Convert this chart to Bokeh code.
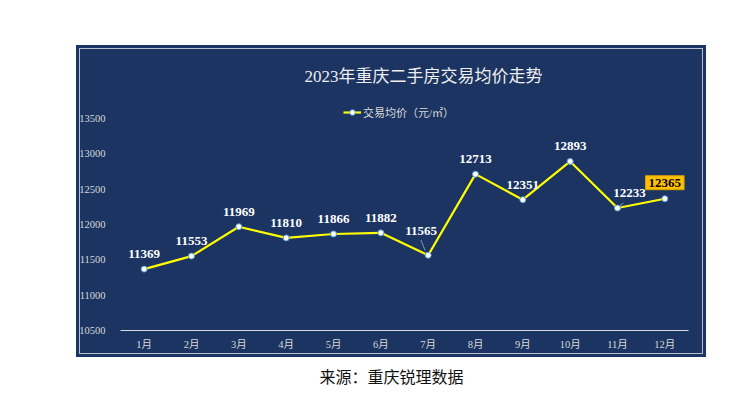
from bokeh.plotting import figure
from bokeh.models import (ColumnDataSource, LabelSet, Legend, LegendItem, FixedTicker,
                          Range1d, FactorRange, Label, Title, Spacer)
from bokeh.layouts import row, column
from bokeh.embed import file_html
from bokeh.resources import INLINE

# ---- data ----
months = ["1月", "2月", "3月", "4月", "5月", "6月", "7月", "8月", "9月", "10月", "11月", "12月"]
prices = [11369, 11553, 11969, 11810, 11866, 11882, 11565, 12713, 12351, 12893, 12233, 12365]
y_ticks = [10500, 11000, 11500, 12000, 12500, 13000, 13500]
title_text = "2023年重庆二手房交易均价走势"
series_name = "交易均价（元/㎡）"
source_text = "来源：重庆锐理数据"

# ---- styles ----
NAVY = "#1b3461"
LIGHT = "#d9d9d9"
SERIF = "Liberation Serif, Noto Sans CJK SC"
PANEL_CSS = {"background-color": NAVY,
             "box-shadow": f"inset 0 0 0 3px {NAVY}, inset 0 0 0 4px #b8bfcc"}
label_dx = [0, 0, 0, 0, 0, 0, -7, 0, 0, 0, 12, 0]
label_dy = [15, 15, 15, 15, 15, 15, 24, 15, 15, 15, 15, 0]
# leader lines (month index, x offsets in category units, y offsets in value units)
leader_idx = [6, 10]
leader_dx0 = [-0.155, 0.127]
leader_dy0 = [216, 71]
leader_dx1 = [-0.063, 0.027]
leader_dy1 = [65, 24]

src = ColumnDataSource(dict(month=months, price=prices, label=[str(v) for v in prices],
                            dx=label_dx, dy=label_dy))
src_main = ColumnDataSource(dict(month=months[:-1], price=prices[:-1],
                                 label=[str(v) for v in prices[:-1]],
                                 dx=label_dx[:-1], dy=label_dy[:-1]))

p = figure(width=630, height=312, output_backend="svg", toolbar_location=None,
           x_range=FactorRange(*months), y_range=Range1d(10500, 13755),
           min_border_left=44, min_border_right=18, min_border_top=55, min_border_bottom=27)
p.background_fill_color = None
p.border_fill_color = None
p.outline_line_color = None
p.xgrid.visible = False
p.ygrid.visible = False
p.styles = PANEL_CSS

p.title = Title(text=title_text, align="left", offset=184, text_color="#eeeeee",
                text_font=SERIF, text_font_size="17px", text_font_style="normal", standoff=30)

# axes
p.yaxis.ticker = FixedTicker(ticks=y_ticks)
p.yaxis.axis_line_color = None
p.yaxis.major_tick_line_color = None
p.yaxis.minor_tick_line_color = None
p.yaxis.major_label_text_color = LIGHT
p.yaxis.major_label_text_font = SERIF
p.yaxis.major_label_text_font_size = "10.5px"
p.yaxis.major_label_standoff = 9

p.xaxis.axis_line_color = LIGHT
p.xaxis.axis_line_width = 1
p.xaxis.major_tick_line_color = None
p.xaxis.minor_tick_line_color = None
p.xaxis.major_label_text_color = LIGHT
p.xaxis.major_label_text_font = SERIF
p.xaxis.major_label_text_font_size = "10.5px"
p.xaxis.major_label_standoff = 2

# leader lines
p.segment(x0=[i + 0.5 + d for i, d in zip(leader_idx, leader_dx0)],
          y0=[prices[i] + d for i, d in zip(leader_idx, leader_dy0)],
          x1=[i + 0.5 + d for i, d in zip(leader_idx, leader_dx1)],
          y1=[prices[i] + d for i, d in zip(leader_idx, leader_dy1)],
          line_color="#8c96a8", line_width=1)

line_r = p.line(x="month", y="price", source=src, line_color="#ffff00", line_width=2.2)
pts_r = p.scatter(x="month", y="price", source=src, marker="circle", size=6,
                  fill_color="white", line_color="#5b9bd5", line_width=1)

labels = LabelSet(x="month", y="price", text="label", source=src_main,
                  x_offset="dx", y_offset="dy", text_align="center", text_baseline="middle",
                  text_color="white", text_font=SERIF, text_font_size="13px",
                  text_font_style="bold")
p.add_layout(labels)

# highlighted last value (categorical synthetic coordinate = index + 0.5)
last_i = len(months) - 1
last = Label(x=last_i + 0.5, y=prices[last_i], text=str(prices[last_i]), y_offset=16,
             text_align="center", text_baseline="middle", text_color="black",
             text_font=SERIF, text_font_size="13px", text_font_style="bold",
             background_fill_color="#ffc000", border_line_color="#d9a300",
             border_line_width=1, padding=3)
p.add_layout(last)

legend = Legend(items=[LegendItem(label=series_name, renderers=[line_r, pts_r])],
                location=(223, 210), background_fill_alpha=0, border_line_alpha=0,
                label_text_color=LIGHT, label_text_font=SERIF, label_text_font_size="11px",
                glyph_width=18, glyph_height=14, padding=0, margin=0, label_standoff=2,
                label_height=16)
p.add_layout(legend)

# caption
p2 = figure(width=630, height=36, output_backend="svg", toolbar_location=None,
            x_range=Range1d(0, 1), y_range=Range1d(0, 1), x_axis_type=None, y_axis_type=None,
            min_border=0)
p2.outline_line_color = None
p2.xgrid.visible = False
p2.ygrid.visible = False
p2.text(x=[0.5], y=[0.5], text=[source_text], text_align="center",
        text_baseline="middle", text_color="#111111", text_font_size="16px",
        text_font={"value": "Noto Sans CJK SC"})

panel = column(p, styles=PANEL_CSS)
layout = row(Spacer(width=76, height=393),
             column(Spacer(width=630, height=45), panel, p2))

open("out.html", "w").write(file_html(layout, INLINE))
